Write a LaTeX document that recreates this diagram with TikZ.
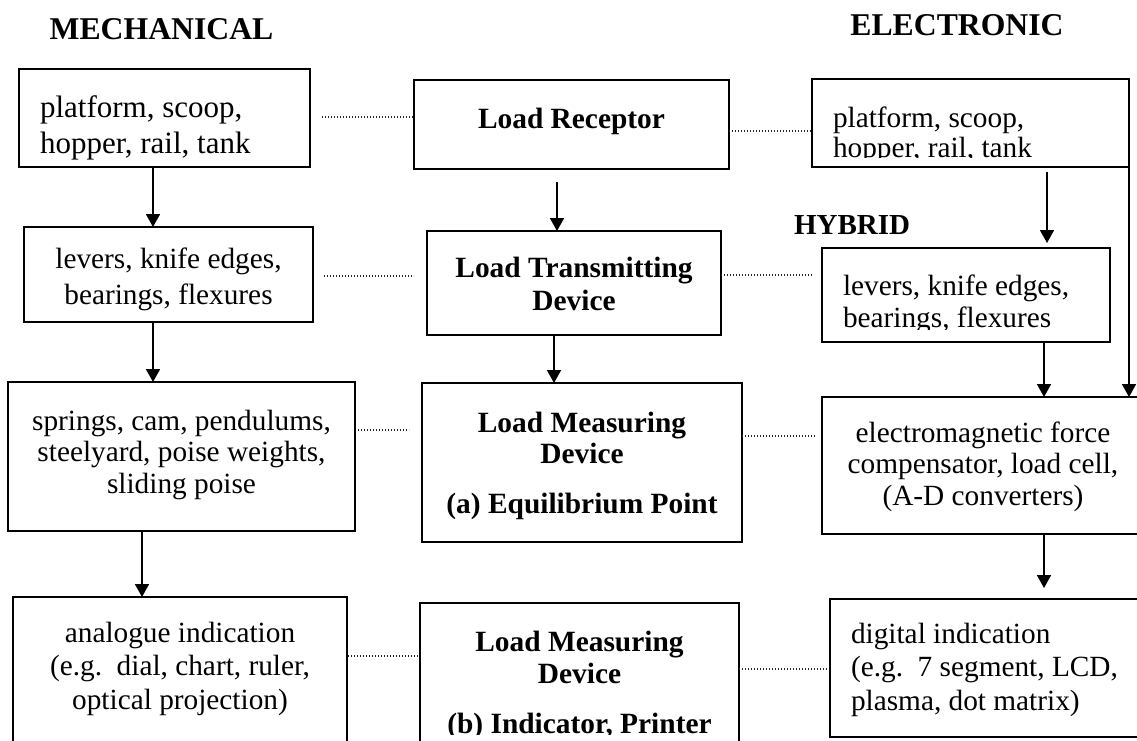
\documentclass[tikz,border=0pt]{standalone}
\usepackage{fontspec}
\setmainfont{Liberation Serif}
\usetikzlibrary{arrows.meta,calc}
\newcommand\fsz[2]{\fontsize{#1}{#2}\selectfont}
\begin{document}
\begin{tikzpicture}[x=1pt,y=-1pt,
  box/.style={draw, line width=1.8pt, inner sep=0pt, outer sep=0pt},
  arr/.style={line width=1.7pt, -{Triangle[length=13pt,width=14pt]}},
  dotl/.style={line width=1.2pt, dash pattern=on 1.1pt off 1.9pt, black!85},
  hdr/.style={inner sep=0pt, anchor=base, font=\fsz{31.7}{34}\bfseries}]
\useasboundingbox (0,0) rectangle (1137,740);

% headers
\node[hdr] (mech) at (161.5,39) {MECHANICAL};
\node[hdr] (elec) at (957,35) {ELECTRONIC};
\node[hdr, font=\fsz{29}{31}\bfseries] (hyb) at (852,234) {HYBRID};

% mechanical column
\node[box, minimum width=291pt, minimum height=98pt, text height=48pt, text depth=50pt] (A1) at (164.5,118)
  {\parbox[t]{249pt}{\raggedright\fsz{31}{36}platform, scoop,\\hopper, rail, tank}};
\node[box, minimum width=289pt, minimum height=95pt, text height=41pt, text depth=54pt] (A2) at (168.5,274.5)
  {\parbox[t]{275pt}{\centering\fsz{29.3}{36}levers, knife edges,\\bearings, flexures}};
\node[box, minimum width=347pt, minimum height=149pt, text height=48pt, text depth=101pt] (A3) at (181.5,456.5)
  {\parbox[t]{335pt}{\centering\fsz{29.3}{31.5}springs, cam, pendulums,\\steelyard, poise weights,\\sliding poise}};
\node[box, minimum width=334pt, minimum height=173pt, text height=45pt, text depth=128pt] (A4) at (180,683.5)
  {\parbox[t]{322pt}{\centering\fsz{29.3}{33.5}analogue indication\\(e.g.\ \ dial, chart, ruler,\\optical projection)}};

% centre column
\node[box, minimum width=315pt, minimum height=89pt, text height=48pt, text depth=41pt] (LR) at (571.5,124.5)
  {\parbox[t]{300pt}{\centering\fsz{29.4}{33}\bfseries Load Receptor}};
\node[box, minimum width=294pt, minimum height=104pt, text height=46pt, text depth=58pt] (LT) at (574,283)
  {\parbox[t]{284pt}{\centering\fsz{29.4}{33}\bfseries Load Transmitting\\Device}};
\node[box, minimum width=320pt, minimum height=159pt, text height=49pt, text depth=110pt] (LM) at (582,462.5)
  {\parbox[t]{312pt}{\centering\fsz{29.4}{31}\bfseries Load Measuring\\Device\\[19pt](a) Equilibrium Point}};
\node[box, minimum width=319pt, minimum height=167pt, text height=48pt, text depth=119pt] (LM2) at (579.5,686.5)
  {\parbox[t]{312pt}{\centering\fsz{29.4}{32}\bfseries Load Measuring\\Device\\[18pt](b) Indicator, Printer}};

% electronic column
\node[box, minimum width=317pt, minimum height=88pt, text height=48pt, text depth=40pt] (E1) at (970.5,123)
  {\parbox[t]{275pt}{\raggedright\fsz{29.3}{30}platform, scoop,\\hopper, rail, tank}};
\node[box, minimum width=288pt, minimum height=94pt, text height=47pt, text depth=47pt] (E2) at (966,295)
  {\parbox[t]{246pt}{\raggedright\fsz{29.3}{32}levers, knife edges,\\bearings, flexures}};
\node[box, minimum width=322pt, minimum height=137pt, text height=45pt, text depth=92pt] (E3) at (983,465.5)
  {\parbox[t]{312pt}{\centering\fsz{29.3}{31.5}electromagnetic force\\compensator, load cell,\\(A-D converters)}};
\node[box, minimum width=340pt, minimum height=138pt, text height=44pt, text depth=94pt] (E4) at (1000,668)
  {\parbox[t]{298pt}{\raggedright\fsz{29.3}{33.5}digital indication\\(e.g.\ \ 7 segment, LCD,\\plasma, dot matrix)}};

% text frames cut off at the bottom
\fill[white] ([xshift=2pt,yshift=1pt]E1.south west) rectangle ([xshift=-2pt,yshift=9pt]E1.south east);
\fill[white] ([xshift=2pt,yshift=1pt]E2.south west) rectangle ([xshift=-2pt,yshift=12pt]E2.south east);
\fill[white] ([xshift=2pt]LM2.west |- 0,735) rectangle ([xshift=-2pt]LM2.east |- 0,745);

% arrows
\draw[arr] (A1.south -| 153,0) -- (A2.north -| 153,0);
\draw[arr] (A2.south -| 153,0) -- (A3.north -| 153,0);
\draw[arr] (A3.south -| 142,0) -- (A4.north -| 142,0);
\draw[arr] ([yshift=-13pt]LR.south -| 557,0) -- (LT.north -| 557,0);
\draw[arr] (LT.south -| 554,0) -- (LM.north -| 554,0);
\draw[arr] ([yshift=-5pt]E1.south -| 1047,0) -- ([yshift=5pt]E2.north -| 1047,0);
\draw[arr] (E2.south -| 1044,0) -- (E3.north -| 1044,0);
\draw[arr] (E1.south east) -- (E3.north -| E1.south east);
\draw[arr] (E3.south -| 1044,0) -- ([yshift=11pt]E4.north -| 1044,0);

% dotted links
\draw[dotl] ([xshift=12pt]A1.east |- 0,117) -- (LR.west |- 0,117);
\draw[dotl] ([xshift=11pt]A2.east |- 0,276) -- ([xshift=-13pt]LT.west |- 0,276);
\draw[dotl] (LR.east |- 0,131) -- (E1.west |- 0,131);
\draw[dotl] (LT.east |- 0,275) -- ([xshift=-10pt]E2.west |- 0,275);
\draw[dotl] ([xshift=3pt]A3.east |- 0,430) -- ([xshift=-13pt]LM.west |- 0,430);
\draw[dotl] (LM.east |- 0,436) -- ([xshift=-6pt]E3.west |- 0,436);
\draw[dotl] ([xshift=1pt]A4.east |- 0,656) -- ([xshift=-2pt]LM2.west |- 0,656);
\draw[dotl] (LM2.east |- 0,669) -- ([xshift=-3pt]E4.west |- 0,669);
\end{tikzpicture}
\end{document}
